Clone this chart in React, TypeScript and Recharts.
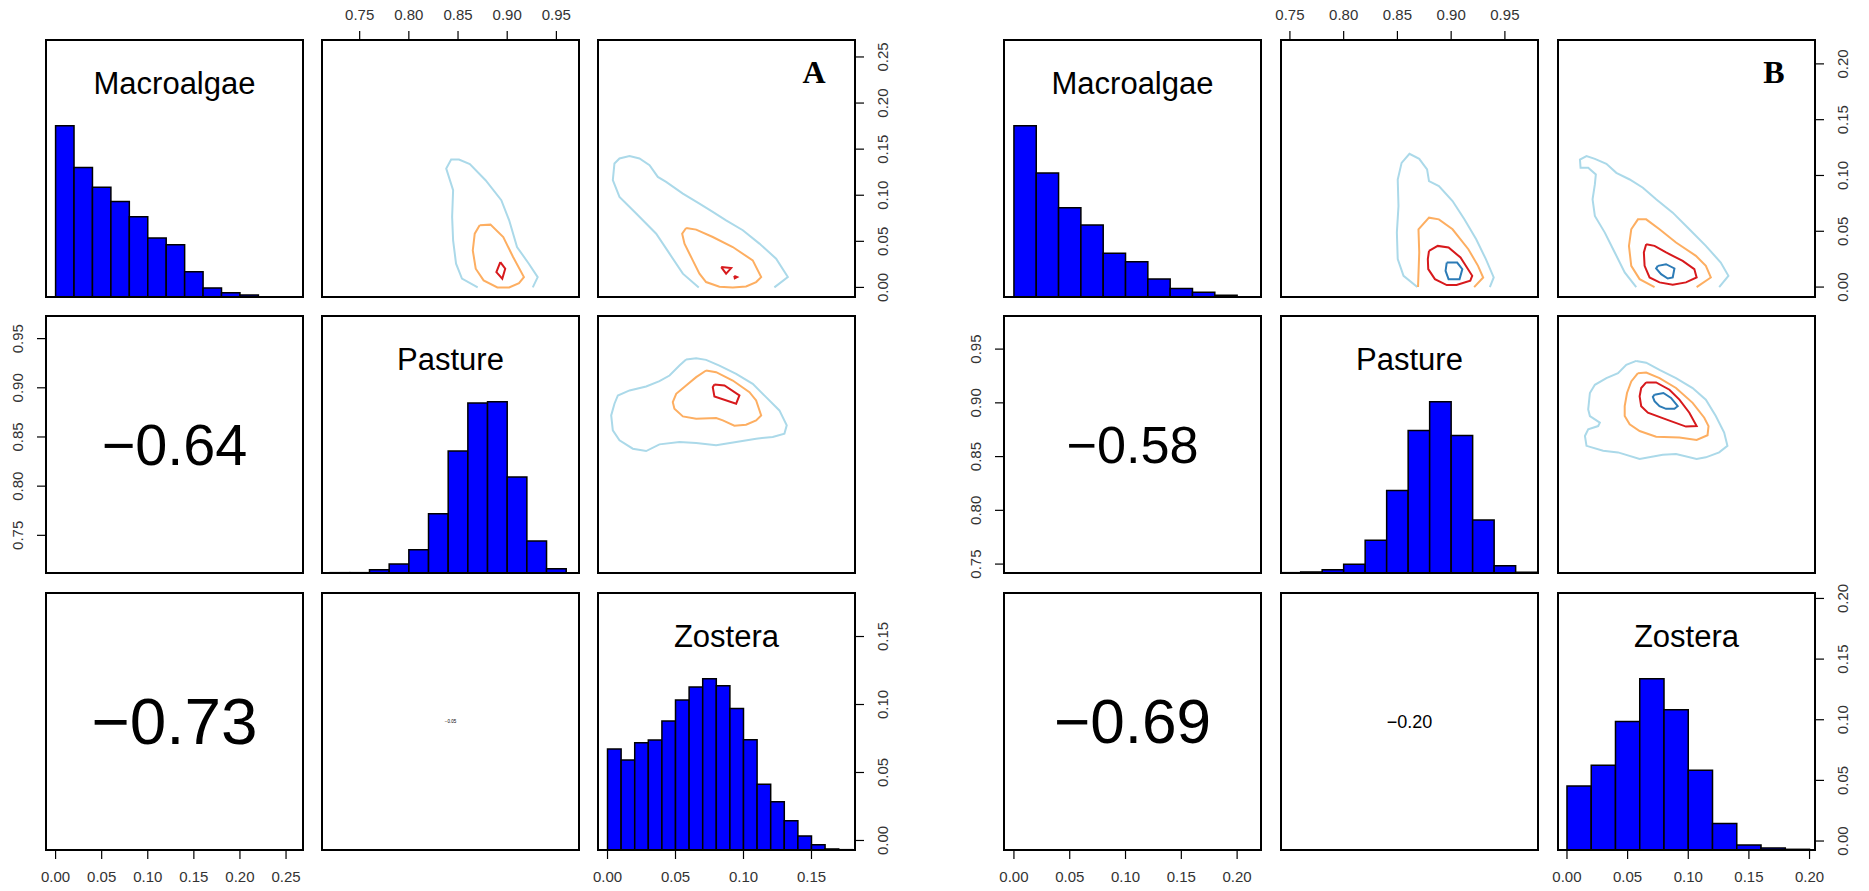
import { ComposedChart, Line, XAxis, YAxis, ReferenceArea } from 'recharts';

type Pt = [number, number];

const FONT = '"Liberation Sans", Arial, Helvetica, sans-serif';
const LEVEL_COLORS = ['#ABD9E9', '#FDAE61', '#D7191C', '#2C7BB6'];

const variables = ['Macroalgae', 'Pasture', 'Zostera'];

// ---- axis ticks ----
const pastureTicks = [0.75, 0.8, 0.85, 0.9, 0.95];
const macroTicksA = [0, 0.05, 0.1, 0.15, 0.2, 0.25];
const zosteraTicksA = [0, 0.05, 0.1, 0.15];
const macroTicksB = [0, 0.05, 0.1, 0.15, 0.2];
const zosteraTicksB = [0, 0.05, 0.1, 0.15, 0.2];

// ---- plotting ranges (data range padded 4% each side) ----
const macroRangeA = [-0.0104, 0.2684];
const pastureRangeA = [0.7117, 0.973];
const zosteraRangeA = [-0.007, 0.182];
const macroRangeB = [-0.0089, 0.2214];
const pastureRangeB = [0.7417, 0.9808];
const zosteraRangeB = [-0.0074, 0.2045];

// ---- correlations: Macroalgae~Pasture, Macroalgae~Zostera, Pasture~Zostera ----
const correlationsA = [-0.64, -0.73, -0.05];
const correlationsB = [-0.58, -0.69, -0.2];

// ---- histograms (bar heights relative to tallest bin) ----
const macroEdgesA = [0, 0.02, 0.04, 0.06, 0.08, 0.1, 0.12, 0.14, 0.16, 0.18, 0.2, 0.22];
const macroHeightsA = [1, 0.756, 0.641, 0.557, 0.469, 0.344, 0.305, 0.148, 0.053, 0.025, 0.012];
const pastureEdgesA = [0.72, 0.74, 0.76, 0.78, 0.8, 0.82, 0.84, 0.86, 0.88, 0.9, 0.92, 0.94, 0.96];
const pastureHeightsA = [0.002, 0.002, 0.019, 0.053, 0.136, 0.346, 0.712, 0.992, 1, 0.56, 0.187, 0.025];
const zosteraEdgesA = [
  0, 0.01, 0.02, 0.03, 0.04, 0.05, 0.06, 0.07, 0.08, 0.09, 0.1, 0.11, 0.12, 0.13, 0.14, 0.15, 0.16, 0.17, 0.18,
];
const zosteraHeightsA = [
  0.589, 0.526, 0.626, 0.642, 0.753, 0.875, 0.951, 1, 0.959, 0.826, 0.644, 0.384, 0.282, 0.17, 0.082, 0.031, 0.006,
  0.002,
];

const macroEdgesB = [0, 0.02, 0.04, 0.06, 0.08, 0.1, 0.12, 0.14, 0.16, 0.18, 0.2];
const macroHeightsB = [1, 0.724, 0.521, 0.42, 0.255, 0.206, 0.105, 0.049, 0.027, 0.01];
const pastureEdgesB = [0.74, 0.76, 0.78, 0.8, 0.82, 0.84, 0.86, 0.88, 0.9, 0.92, 0.94, 0.96, 0.98];
const pastureHeightsB = [0.002, 0.006, 0.019, 0.051, 0.191, 0.482, 0.831, 1, 0.802, 0.309, 0.043, 0.004];
const zosteraEdgesB = [0, 0.02, 0.04, 0.06, 0.08, 0.1, 0.12, 0.14, 0.16, 0.18, 0.2];
const zosteraHeightsB = [0.373, 0.495, 0.75, 1, 0.819, 0.466, 0.155, 0.029, 0.012, 0.004];

// ---- 2D density contours, [x, y] ----
// A: Pasture (x) vs Macroalgae (y)
const apmOuter: Pt[] = [[0.870, 0], [0.854, 0.0095], [0.848, 0.0257], [0.845, 0.0511], [0.844, 0.0765], [0.845, 0.1055], [0.838, 0.129], [0.843, 0.1388], [0.851, 0.1388], [0.862, 0.1337], [0.878, 0.1163], [0.894, 0.0946], [0.902, 0.0728], [0.910, 0.0438], [0.922, 0.0257], [0.931, 0.0112], [0.926, 0]];
const apmMid: Pt[] = [[0.872, 0.0674], [0.883, 0.0681], [0.896, 0.0547], [0.906, 0.033], [0.917, 0.0112], [0.912, 0.0047], [0.902, 0], [0.890, 0], [0.876, 0.0076], [0.868, 0.0203], [0.865, 0.0402], [0.867, 0.0583], [0.872, 0.0674]];
const apmInner: Pt[] = [[0.893, 0.0275], [0.898, 0.0203], [0.895, 0.0095], [0.889, 0.0166], [0.893, 0.0275]];
// A: Zostera (x) vs Macroalgae (y)
const azmOuter: Pt[] = [[0.0671, 0], [0.0554, 0.0149], [0.0456, 0.0366], [0.0358, 0.0583], [0.0211, 0.0801], [0.0088, 0.0982], [0.0039, 0.1163], [0.0051, 0.1344], [0.0088, 0.1399], [0.0162, 0.1424], [0.0235, 0.1399], [0.0309, 0.1326], [0.037, 0.1199], [0.0431, 0.1145], [0.0554, 0.1018], [0.0676, 0.091], [0.0774, 0.0819], [0.0872, 0.0728], [0.0995, 0.062], [0.1117, 0.0475], [0.124, 0.0312], [0.1326, 0.0112], [0.1227, 0]];
const azmMid: Pt[] = [[0.0578, 0.0645], [0.0652, 0.0627], [0.0774, 0.0547], [0.0921, 0.0438], [0.1068, 0.0293], [0.113, 0.0112], [0.1093, 0.0058], [0.1019, 0.0011], [0.0921, 0], [0.0823, 0.0007], [0.0725, 0.0058], [0.0676, 0.0149], [0.0627, 0.0293], [0.0566, 0.0475], [0.0549, 0.0583], [0.0578, 0.0645]];
const azmInner: Pt[] = [[0.0836, 0.0221], [0.0909, 0.021], [0.0872, 0.0149], [0.0836, 0.0221]];
const azmInner2: Pt[] = [[0.0932, 0.0125], [0.0953, 0.0112], [0.0936, 0.0099], [0.0932, 0.0125]];
// A: Zostera (x) vs Pasture (y)
const azpOuter: Pt[] = [[0.0578, 0.9287], [0.0652, 0.93], [0.0725, 0.9284], [0.0823, 0.9226], [0.0946, 0.9142], [0.1068, 0.904], [0.1166, 0.8905], [0.1264, 0.877], [0.1318, 0.8618], [0.1301, 0.8534], [0.1215, 0.85], [0.1093, 0.8483], [0.0946, 0.8449], [0.0799, 0.8415], [0.0652, 0.8438], [0.0529, 0.8449], [0.0382, 0.8425], [0.0284, 0.8357], [0.0186, 0.8381], [0.0088, 0.8466], [0.0039, 0.8567], [0.0027, 0.8719], [0.0051, 0.8838], [0.0076, 0.8922], [0.0162, 0.8973], [0.0284, 0.9013], [0.0382, 0.9067], [0.0456, 0.9125], [0.0529, 0.9226], [0.0578, 0.9287]];
const azpMid: Pt[] = [[0.0725, 0.9176], [0.0799, 0.9159], [0.0921, 0.9074], [0.1044, 0.8956], [0.1093, 0.8871], [0.113, 0.8719], [0.1093, 0.8669], [0.1019, 0.8625], [0.0933, 0.8615], [0.0848, 0.8669], [0.0799, 0.8692], [0.0652, 0.8686], [0.0554, 0.8709], [0.0492, 0.8787], [0.048, 0.8854], [0.0505, 0.8939], [0.0578, 0.9023], [0.0652, 0.9108], [0.0725, 0.9176]];
const azpInner: Pt[] = [[0.0786, 0.9034], [0.086, 0.9023], [0.097, 0.8922], [0.0946, 0.8838], [0.0786, 0.8912], [0.0774, 0.9006], [0.0786, 0.9034]];

// B: Pasture (x) vs Macroalgae (y)
const bpmOuter: Pt[] = [[0.8685, 0], [0.8557, 0.0101], [0.8503, 0.025], [0.8495, 0.0488], [0.851, 0.0726], [0.8503, 0.0964], [0.8539, 0.1113], [0.8612, 0.1194], [0.8703, 0.1149], [0.8776, 0.1054], [0.8794, 0.0949], [0.8886, 0.0905], [0.9013, 0.0771], [0.9123, 0.0607], [0.9233, 0.0429], [0.9323, 0.025], [0.9396, 0.0086], [0.936, 0]];
const bpmMid: Pt[] = [[0.8692, 0], [0.8703, 0.031], [0.8696, 0.0518], [0.8794, 0.0622], [0.8886, 0.0607], [0.9013, 0.0518], [0.916, 0.0339], [0.925, 0.019], [0.9298, 0.0086], [0.9214, 0]];
const bpmInner: Pt[] = [[0.8794, 0.0324], [0.8875, 0.0369], [0.8976, 0.0354], [0.9087, 0.0265], [0.9196, 0.0101], [0.9178, 0.0057], [0.905, 0.0018], [0.8959, 0.0018], [0.8849, 0.0071], [0.8787, 0.0161], [0.8783, 0.025], [0.8794, 0.0324]];
const bpmCore: Pt[] = [[0.8959, 0.022], [0.9056, 0.022], [0.9104, 0.0161], [0.9078, 0.0071], [0.8976, 0.0071], [0.8948, 0.0146], [0.8959, 0.022]];
// B: Zostera (x) vs Macroalgae (y)
const bzmOuter: Pt[] = [[0.0571, 0], [0.0476, 0.0131], [0.0394, 0.031], [0.0312, 0.0488], [0.023, 0.0637], [0.0211, 0.0786], [0.023, 0.092], [0.0238, 0.1009], [0.0175, 0.1069], [0.0112, 0.1069], [0.0107, 0.1143], [0.0161, 0.1173], [0.023, 0.1149], [0.0325, 0.1104], [0.0407, 0.1024], [0.0517, 0.0964], [0.0626, 0.089], [0.0735, 0.0786], [0.0872, 0.0667], [0.1009, 0.0518], [0.1145, 0.0369], [0.1268, 0.022], [0.1331, 0.0101], [0.1255, 0]];
const bzmMid: Pt[] = [[0.0722, 0], [0.0599, 0.0071], [0.053, 0.019], [0.0511, 0.0369], [0.053, 0.0518], [0.0585, 0.0607], [0.0653, 0.0607], [0.0763, 0.0518], [0.0899, 0.0399], [0.1063, 0.028], [0.1145, 0.019], [0.1186, 0.0086], [0.1069, 0]];
const bzmInner: Pt[] = [[0.0653, 0.0384], [0.0722, 0.0369], [0.0817, 0.031], [0.0954, 0.0235], [0.105, 0.0161], [0.1069, 0.0086], [0.0981, 0.0042], [0.0872, 0.0021], [0.0763, 0.0042], [0.0681, 0.0086], [0.064, 0.019], [0.0634, 0.031], [0.0653, 0.0384]];
const bzmCore: Pt[] = [[0.0749, 0.019], [0.0817, 0.0205], [0.0886, 0.0167], [0.0872, 0.0086], [0.0831, 0.0077], [0.0776, 0.0116], [0.0735, 0.0167], [0.0749, 0.019]];
// B: Zostera (x) vs Pasture (y)
const bzpOuter: Pt[] = [[0.0571, 0.939], [0.0653, 0.9374], [0.0763, 0.9307], [0.0899, 0.923], [0.1036, 0.9138], [0.1145, 0.903], [0.1227, 0.8877], [0.1296, 0.8724], [0.1323, 0.86], [0.1255, 0.8539], [0.1145, 0.8493], [0.1069, 0.8478], [0.0899, 0.8524], [0.079, 0.8518], [0.0599, 0.8478], [0.0421, 0.8539], [0.0298, 0.8554], [0.0161, 0.86], [0.0148, 0.8692], [0.0175, 0.8754], [0.0257, 0.8784], [0.0271, 0.8816], [0.0189, 0.8877], [0.0175, 0.8938], [0.0189, 0.9092], [0.023, 0.9168], [0.0325, 0.923], [0.0421, 0.9276], [0.0489, 0.9353], [0.0571, 0.939]];
const bzpMid: Pt[] = [[0.0585, 0.9276], [0.0653, 0.9282], [0.0763, 0.923], [0.0899, 0.9138], [0.1036, 0.9], [0.1132, 0.8862], [0.1167, 0.8784], [0.1159, 0.8699], [0.1069, 0.8655], [0.0927, 0.8678], [0.0735, 0.8684], [0.0599, 0.8738], [0.0517, 0.88], [0.0476, 0.8877], [0.0476, 0.8969], [0.0495, 0.9092], [0.053, 0.9199], [0.0585, 0.9276]];
const bzpInner: Pt[] = [[0.0653, 0.919], [0.0735, 0.919], [0.0845, 0.9122], [0.0927, 0.903], [0.1009, 0.8908], [0.1069, 0.8784], [0.0981, 0.8779], [0.0817, 0.8846], [0.0667, 0.8908], [0.0612, 0.8969], [0.0599, 0.9061], [0.0612, 0.9138], [0.0653, 0.919]];
const bzpCore: Pt[] = [[0.0722, 0.9076], [0.0795, 0.9092], [0.0858, 0.9046], [0.0913, 0.8969], [0.0886, 0.8944], [0.0817, 0.8944], [0.0763, 0.8969], [0.0722, 0.9015], [0.0708, 0.9055], [0.0722, 0.9076]];

// ---- layout ----
const SIZE = 257;
const PAD = 60;
const AXIS = 45;
const ROWS = [40, 316, 593];
const COLS_A = [46, 322, 598];
const COLS_B = [1004, 1281, 1558];

type Contour = { pts: Pt[]; level: number };

interface CellProps {
  left: number;
  top: number;
  xRange: number[];
  yRange: number[];
  xTicks?: number[];
  xSide?: 'top' | 'bottom';
  yTicks?: number[];
  ySide?: 'left' | 'right';
  edges?: number[];
  heights?: number[];
  contours?: Contour[];
}

function AxisTick(props: any) {
  const { x, y, payload, vertical } = props;
  return (
    <text
      x={x}
      y={y}
      transform={vertical ? `rotate(-90 ${x} ${y})` : undefined}
      textAnchor="middle"
      dominantBaseline="central"
      fontFamily={FONT}
      fontSize={15}
      fill="#333"
    >
      {Number(payload.value).toFixed(2)}
    </text>
  );
}

function Cell({ left, top, xRange, yRange, xTicks, xSide = 'bottom', yTicks, ySide = 'left', edges, heights, contours }: CellProps) {
  const margin = {
    top: PAD - (xTicks && xSide === 'top' ? AXIS : 0),
    bottom: PAD - (xTicks && xSide === 'bottom' ? AXIS : 0),
    left: PAD - (yTicks && ySide === 'left' ? AXIS : 0),
    right: PAD - (yTicks && ySide === 'right' ? AXIS : 0),
  };
  const isHist = !!(edges && heights);
  return (
    <div style={{ position: 'absolute', left: left - PAD, top: top - PAD }}>
      <ComposedChart width={SIZE + 2 * PAD} height={SIZE + 2 * PAD} margin={margin}>
        <XAxis
          xAxisId="v"
          type="number"
          dataKey="x"
          domain={xRange}
          allowDataOverflow
          hide={!xTicks}
          orientation={xSide}
          height={AXIS}
          ticks={xTicks}
          interval={0}
          tickSize={9}
          tickMargin={17}
          axisLine={false}
          tickLine={{ stroke: '#000', strokeWidth: 1.2 }}
          tick={(p: any) => <AxisTick {...p} />}
        />
        <YAxis
          yAxisId="v"
          type="number"
          dataKey="y"
          domain={yRange}
          allowDataOverflow
          hide={!yTicks}
          orientation={ySide}
          width={AXIS}
          ticks={yTicks}
          interval={0}
          tickSize={9}
          tickMargin={19}
          axisLine={false}
          tickLine={{ stroke: '#000', strokeWidth: 1.2 }}
          tick={(p: any) => <AxisTick {...p} vertical />}
        />
        {isHist && (
          <YAxis yAxisId="h" type="number" domain={[0, 1.5]} allowDataOverflow hide width={0} orientation="left" />
        )}
        {isHist &&
          heights!.map((h, i) => (
            <ReferenceArea
              key={`bin-${i}`}
              xAxisId="v"
              yAxisId="h"
              x1={edges![i]}
              x2={edges![i + 1]}
              y1={0}
              y2={h}
              fill="#0000ff"
              fillOpacity={1}
              stroke="#000"
              strokeWidth={1.5}
              ifOverflow="hidden"
            />
          ))}
        {contours &&
          contours.map((c, i) => (
            <Line
              key={`lvl-${i}`}
              xAxisId="v"
              yAxisId="v"
              data={c.pts.map(([x, y]) => ({ x, y }))}
              dataKey="y"
              stroke={LEVEL_COLORS[c.level]}
              strokeWidth={2}
              dot={false}
              activeDot={false}
              isAnimationActive={false}
            />
          ))}
      </ComposedChart>
    </div>
  );
}

interface PanelProps {
  cols: number[];
  letter: string;
  ranges: number[][];
  macroTicks: number[];
  zosteraTicks: number[];
  hists: { edges: number[]; heights: number[] }[];
  pm: Contour[];
  zm: Contour[];
  zp: Contour[];
  corrs: number[];
}

function fmtCorr(r: number) {
  return r.toFixed(2).replace('-', '\u2212');
}

function Panel({ cols, letter, ranges, macroTicks, zosteraTicks, hists, pm, zm, zp, corrs }: PanelProps) {
  const [mR, pR, zR] = ranges;
  const corrCells = [
    { r: 1, c: 0, v: corrs[0] },
    { r: 2, c: 0, v: corrs[1] },
    { r: 2, c: 1, v: corrs[2] },
  ];
  return (
    <>
      {/* diagonal histograms */}
      <Cell left={cols[0]} top={ROWS[0]} xRange={mR} yRange={mR} edges={hists[0].edges} heights={hists[0].heights} />
      <Cell left={cols[1]} top={ROWS[1]} xRange={pR} yRange={pR} edges={hists[1].edges} heights={hists[1].heights} />
      <Cell
        left={cols[2]}
        top={ROWS[2]}
        xRange={zR}
        yRange={zR}
        xTicks={zosteraTicks}
        xSide="bottom"
        yTicks={zosteraTicks}
        ySide="right"
        edges={hists[2].edges}
        heights={hists[2].heights}
      />
      {/* upper triangle: density contours */}
      <Cell left={cols[1]} top={ROWS[0]} xRange={pR} yRange={mR} xTicks={pastureTicks} xSide="top" contours={pm} />
      <Cell left={cols[2]} top={ROWS[0]} xRange={zR} yRange={mR} yTicks={macroTicks} ySide="right" contours={zm} />
      <Cell left={cols[2]} top={ROWS[1]} xRange={zR} yRange={pR} contours={zp} />
      {/* lower triangle: axes only, correlation text in overlay */}
      <Cell left={cols[0]} top={ROWS[1]} xRange={mR} yRange={pR} yTicks={pastureTicks} ySide="left" />
      <Cell left={cols[0]} top={ROWS[2]} xRange={mR} yRange={zR} xTicks={macroTicks} xSide="bottom" />
      <Cell left={cols[1]} top={ROWS[2]} xRange={pR} yRange={zR} />

      <svg
        width={1869}
        height={891}
        style={{ position: 'absolute', left: 0, top: 0, pointerEvents: 'none' }}
      >
        {ROWS.map((y) =>
          cols.map((x) => (
            <rect key={`${x}-${y}`} x={x} y={y} width={SIZE} height={SIZE} fill="none" stroke="#000" strokeWidth={2} />
          )),
        )}
        {variables.map((name, i) => (
          <text
            key={name}
            x={cols[i] + SIZE / 2}
            y={ROWS[i] + 43}
            textAnchor="middle"
            dominantBaseline="central"
            fontFamily={FONT}
            fontSize={31}
            fill="#000"
          >
            {name}
          </text>
        ))}
        {corrCells.map(({ r, c, v }) => (
          <text
            key={`cor-${r}-${c}`}
            x={cols[c] + SIZE / 2}
            y={ROWS[r] + SIZE / 2}
            textAnchor="middle"
            dominantBaseline="central"
            fontFamily={FONT}
            fontSize={90 * Math.abs(v)}
            fill="#000"
          >
            {fmtCorr(v)}
          </text>
        ))}
        <text
          x={cols[2] + SIZE - 41}
          y={ROWS[0] + 32}
          textAnchor="middle"
          dominantBaseline="central"
          fontFamily='"Liberation Serif", "Times New Roman", serif'
          fontWeight="bold"
          fontSize={32}
          fill="#000"
        >
          {letter}
        </text>
      </svg>
    </>
  );
}

export default function App() {
  return (
    <div
      style={{
        position: 'absolute',
        left: 0,
        top: 0,
        width: 1869,
        height: 891,
        overflow: 'hidden',
        background: '#fff',
      }}
    >
      <Panel
        cols={COLS_A}
        letter="A"
        ranges={[macroRangeA, pastureRangeA, zosteraRangeA]}
        macroTicks={macroTicksA}
        zosteraTicks={zosteraTicksA}
        hists={[
          { edges: macroEdgesA, heights: macroHeightsA },
          { edges: pastureEdgesA, heights: pastureHeightsA },
          { edges: zosteraEdgesA, heights: zosteraHeightsA },
        ]}
        pm={[
          { pts: apmOuter, level: 0 },
          { pts: apmMid, level: 1 },
          { pts: apmInner, level: 2 },
        ]}
        zm={[
          { pts: azmOuter, level: 0 },
          { pts: azmMid, level: 1 },
          { pts: azmInner, level: 2 },
          { pts: azmInner2, level: 2 },
        ]}
        zp={[
          { pts: azpOuter, level: 0 },
          { pts: azpMid, level: 1 },
          { pts: azpInner, level: 2 },
        ]}
        corrs={correlationsA}
      />
      <Panel
        cols={COLS_B}
        letter="B"
        ranges={[macroRangeB, pastureRangeB, zosteraRangeB]}
        macroTicks={macroTicksB}
        zosteraTicks={zosteraTicksB}
        hists={[
          { edges: macroEdgesB, heights: macroHeightsB },
          { edges: pastureEdgesB, heights: pastureHeightsB },
          { edges: zosteraEdgesB, heights: zosteraHeightsB },
        ]}
        pm={[
          { pts: bpmOuter, level: 0 },
          { pts: bpmMid, level: 1 },
          { pts: bpmInner, level: 2 },
          { pts: bpmCore, level: 3 },
        ]}
        zm={[
          { pts: bzmOuter, level: 0 },
          { pts: bzmMid, level: 1 },
          { pts: bzmInner, level: 2 },
          { pts: bzmCore, level: 3 },
        ]}
        zp={[
          { pts: bzpOuter, level: 0 },
          { pts: bzpMid, level: 1 },
          { pts: bzpInner, level: 2 },
          { pts: bzpCore, level: 3 },
        ]}
        corrs={correlationsB}
      />
    </div>
  );
}
